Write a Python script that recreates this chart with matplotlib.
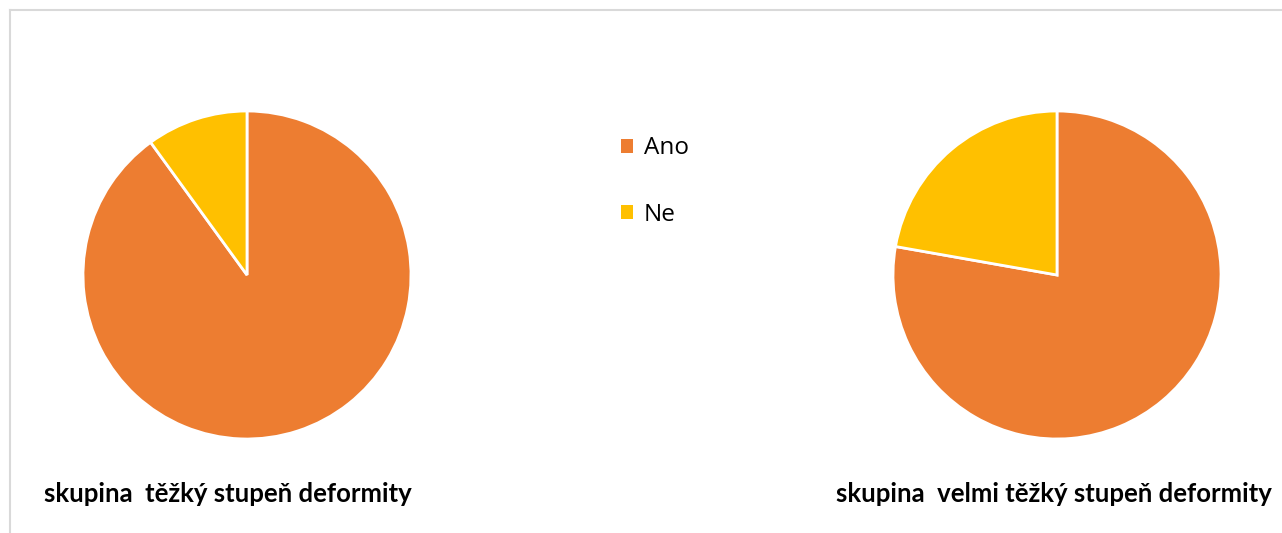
import matplotlib
matplotlib.use("Agg")
import matplotlib.pyplot as plt
from matplotlib.lines import Line2D
from matplotlib.patches import Patch

# Data
categories = ["Ano", "Ne"]
group_titles = ["skupina  těžký stupeň deformity",
                "skupina  velmi těžký stupeň deformity"]
severe_values = [9, 1]          # těžký stupeň
very_severe_values = [7, 2]     # velmi těžký stupeň
colors = ["#ED7D31", "#FFC000"]

W, H = 1282, 533
fig = plt.figure(figsize=(W / 100, H / 100), dpi=100)
fig.patch.set_facecolor("white")

def px_axes(x0, y0, w, h):
    return fig.add_axes([x0 / W, 1 - (y0 + h) / H, w / W, h / H])

# Chart area border (left and top edges visible)
fig.add_artist(Line2D([9.5 / W, 9.5 / W], [0, 1 - 10 / H], transform=fig.transFigure,
                      color="#D9D9D9", lw=1.5))
fig.add_artist(Line2D([9.5 / W, 1], [1 - 10 / H, 1 - 10 / H], transform=fig.transFigure,
                      color="#D9D9D9", lw=1.5))

R = 164
for cx, vals, title, tx in [(247, severe_values, group_titles[0], 227.5),
                            (1057, very_severe_values, group_titles[1], 1053.5)]:
    ax = px_axes(cx - R, 275 - R, 2 * R, 2 * R)
    ax.pie(vals, colors=colors, startangle=90, counterclock=False,
           wedgeprops=dict(edgecolor="white", linewidth=2.0))
    ax.set_xlim(-1, 1)
    ax.set_ylim(-1, 1)
    ax.set_aspect("equal")
    ax.axis("off")
    fig.text(tx / W, 1 - 494 / H, title, ha="center", va="center",
             fontsize=18.5, fontweight="bold", family="Lato", color="#000000")

handles = [Patch(facecolor=c, edgecolor="none") for c in colors]
fig.legend(handles, categories, loc="center left",
           bbox_to_anchor=(621 / W, 1 - 181.5 / H), frameon=False,
           borderpad=0, borderaxespad=0,
           prop=dict(family="Open Sans", size=17.5), handlelength=0.5,
           handleheight=0.5, handletextpad=0.45, labelspacing=1.75)

fig.savefig("out.png", dpi=100, facecolor="white")
